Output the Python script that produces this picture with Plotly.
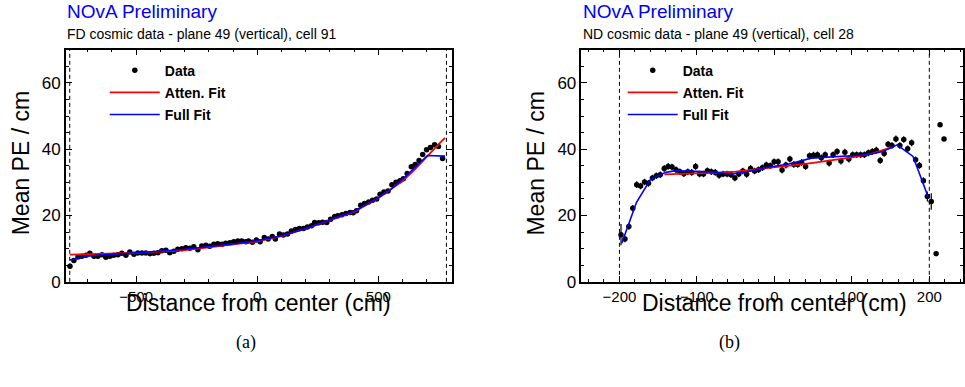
import plotly.graph_objects as go

# ---------------- FD panel (a) ----------------
fd_x = [-773, -757, -740, -724, -707, -691, -674, -658, -641, -625, -608, -592, -575, -559,
        -542, -526, -509, -493, -476, -460, -443, -427, -410, -394, -377, -361, -344, -328,
        -311, -295, -278, -262, -245, -229, -212, -196, -179, -163, -146, -130, -113, -97,
        -80, -64, -47, -36, -20, -4, 12, 29, 45, 62, 75, 92, 108, 125, 141, 158, 174, 191,
        207, 224, 237, 254, 270, 287, 303, 320, 333, 350, 366, 383, 396, 410, 427, 443, 460,
        476, 493, 507, 523, 540, 556, 573, 589, 603, 619, 636, 652, 668, 683, 699, 715, 732,
        748, 765]
fd_y = [4.7, 6.4, 7.5, 7.7, 8.0, 8.6, 7.7, 7.7, 8.2, 7.4, 7.7, 8.0, 8.2, 8.6,
        8.0, 9.0, 8.3, 8.7, 8.7, 8.7, 8.5, 8.6, 8.8, 9.4, 9.5, 8.8, 9.2, 9.8,
        10.0, 10.3, 10.1, 10.6, 9.7, 10.8, 11.0, 10.7, 11.3, 11.5, 11.3, 11.6, 11.8, 12.1,
        12.3, 12.3, 12.1, 12.3, 11.9, 12.6, 12.1, 13.4, 12.9, 13.7, 12.9, 14.4, 14.1, 14.4,
        15.3, 15.8, 16.1, 16.1, 16.5, 16.9, 17.9, 17.8, 18.0, 17.9, 18.9, 19.7, 19.9, 20.2,
        20.6, 20.9, 20.8, 21.4, 23.1, 23.6, 24.1, 24.6, 25.0, 26.4, 27.1, 27.4, 29.3, 30.0,
        30.5, 31.1, 32.7, 34.7, 35.4, 36.6, 38.4, 39.8, 40.5, 41.3, 40.8, 37.2]
fd_err = [0.8] + [0.3] * (len(fd_y) - 1)

fd_att_x = [-773, -700, -600, -500, -400, -300, -200, -100, 0, 100, 200, 300, 400, 500,
            600, 650, 700, 750, 775]
fd_att_y = [8.2, 8.3, 8.4, 8.7, 9.1, 9.6, 10.4, 11.2, 12.2, 13.8, 16.0, 18.6, 21.1, 25.3,
            30.4, 33.8, 37.8, 41.6, 43.4]

fd_full_x = [-773, -740, -700, -650, -600, -500, -400, -300, -200, -100, 0, 100, 200, 300,
             400, 500, 550, 600, 650, 703, 775]
fd_full_y = [6.6, 7.2, 7.7, 8.1, 8.3, 8.7, 9.2, 9.8, 10.5, 11.4, 12.4, 13.9, 16.0, 18.6,
             21.3, 25.3, 27.8, 30.9, 34.3, 38.1, 37.9]

fd_cuts = [-774, 781]

# ---------------- ND panel (b) ----------------
nd_x = [-198.0, -192.9, -187.9, -182.8, -177.7, -172.7, -167.6, -162.5, -157.4, -152.4,
        -147.3, -142.2, -137.2, -132.1, -127.0, -122.0, -116.9, -111.8, -106.7, -101.7,
        -96.6, -91.5, -86.5, -81.4, -76.3, -71.3, -66.2, -61.1, -56.0, -51.0,
        -45.9, -40.8, -35.8, -30.7, -25.6, -20.5, -15.5, -10.4, -5.3, -0.3,
        4.8, 9.9, 14.9, 20.0, 25.1, 30.2, 35.2, 40.3, 45.4, 50.4,
        55.5, 60.6, 65.6, 70.7, 75.8, 80.9, 85.9, 91.0, 96.1, 101.1,
        106.2, 111.3, 116.3, 121.4, 126.5, 131.6, 136.6, 141.7, 146.8, 151.8,
        156.9, 162.0, 167.0, 172.1, 177.2, 182.3, 187.3, 192.4, 197.5, 202.5,
        208.8, 213.9, 219.0]
nd_y = [14.2, 12.9, 16.7, 22.2, 29.3, 28.9, 30.1, 29.7, 31.3, 32.0,
        32.3, 34.2, 34.8, 34.6, 33.8, 33.2, 32.6, 33.2, 33.0, 34.8,
        32.5, 32.5, 33.5, 33.2, 33.0, 32.1, 32.5, 32.5, 32.3, 31.3,
        32.5, 33.4, 32.4, 34.2, 33.4, 33.8, 34.4, 35.2, 35.0, 36.2,
        36.2, 33.7, 35.2, 37.0, 35.4, 35.4, 36.0, 34.8, 38.0, 38.2,
        38.3, 37.4, 38.3, 35.8, 38.3, 39.3, 36.4, 39.1, 37.0, 38.3,
        38.3, 38.3, 38.3, 38.9, 39.3, 39.7, 36.6, 38.7, 41.5, 41.1,
        43.1, 41.1, 42.9, 40.1, 41.9, 36.8, 35.1, 30.5, 25.7, 24.2,
        8.5, 47.4, 43.1]
nd_err = ([3.2] + [1.0] * 77 + [1.5, 2.5] + [0.2, 0.2, 0.2])

nd_att_x = [-142, -120, -100, -75, -50, -25, 0, 25, 50, 75, 100, 125, 152]
nd_att_y = [32.4, 32.5, 32.7, 32.9, 33.2, 33.8, 34.6, 35.2, 35.9, 36.6, 37.5, 38.6, 40.6]

nd_full_x = [-197, -178, -160, -152, -140, -128, -100, -80, -55, -30, -12, 20, 48, 90,
             121, 140, 158.5, 179, 199]
nd_full_y = [11.6, 24.0, 30.8, 31.8, 33.0, 33.5, 33.3, 33.1, 32.5, 33.4, 34.4, 35.6, 37.3,
             38.0, 38.3, 39.3, 41.3, 37.8, 25.3]

nd_cuts = [-200, 200]

FONT = "Liberation Sans"
W = 965
H = 387


def py(ypx):
    """paper y for a pixel row measured from the top"""
    return (H - ypx) / H


fig = go.Figure()


def add_panel(xs, ys, errs, ax, ay, fx, fy, xa, ya, leg):
    fig.add_trace(go.Scatter(
        x=xs, y=ys, mode="markers", name="Data", xaxis=xa, yaxis=ya, legend=leg,
        legendgroup=leg + "d",
        marker=dict(color="black", size=5.5),
        error_y=dict(type="data", array=errs, visible=True, color="black",
                     thickness=1.2, width=0)))
    fig.add_trace(go.Scatter(
        x=ax, y=ay, mode="lines", name="Atten. Fit", xaxis=xa, yaxis=ya, legend=leg,
        legendgroup=leg + "a", line=dict(color="#ff0000", width=1.8)))
    fig.add_trace(go.Scatter(
        x=fx, y=fy, mode="lines", name="Full Fit", xaxis=xa, yaxis=ya, legend=leg,
        legendgroup=leg + "f", line=dict(color="#0000ff", width=1.6)))


add_panel(fd_x, fd_y, fd_err, fd_att_x, fd_att_y, fd_full_x, fd_full_y, "x", "y", "legend")
add_panel(nd_x, nd_y, nd_err, nd_att_x, nd_att_y, nd_full_x, nd_full_y, "x2", "y2", "legend2")

shapes = []
for c in fd_cuts:
    shapes.append(dict(type="line", xref="x", yref="y domain", x0=c, x1=c, y0=0, y1=1,
                       line=dict(color="black", width=1, dash="4px,3px")))
for c in nd_cuts:
    shapes.append(dict(type="line", xref="x2", yref="y2 domain", x0=c, x1=c, y0=0, y1=1,
                       line=dict(color="black", width=1, dash="4px,3px")))

ydom = [py(289.3), py(51)]
axis_common = dict(showline=True, linecolor="black", linewidth=1.5, mirror="ticks",
                   ticks="inside", ticklen=6, tickcolor="black", tickwidth=1,
                   showgrid=False, zeroline=False)

fig.update_layout(
    width=W, height=H, autosize=False, margin=dict(l=0, r=0, t=0, b=0, pad=0),
    paper_bgcolor="white", plot_bgcolor="white",
    font=dict(family=FONT, color="black"),
    shapes=shapes,
    xaxis=dict(domain=[66 / W, 452.7 / W], range=[-790, 803], dtick=500, tick0=0,
               tickfont=dict(size=15, family=FONT),
               minor=dict(dtick=100, ticklen=3, ticks="inside", tickcolor="black"),
               anchor="y", **axis_common),
    yaxis=dict(domain=ydom, range=[0, 70], dtick=20, tick0=0,
               tickfont=dict(size=17, family=FONT),
               minor=dict(dtick=5, ticklen=3, ticks="inside", tickcolor="black"),
               anchor="x", **axis_common),
    xaxis2=dict(domain=[582.7 / W, 1.0], range=[-249, 243.5], dtick=100, tick0=0,
                tickfont=dict(size=15, family=FONT),
                minor=dict(dtick=20, ticklen=3, ticks="inside", tickcolor="black"),
                anchor="y2", **axis_common),
    yaxis2=dict(domain=ydom, range=[0, 70], dtick=20, tick0=0,
                tickfont=dict(size=17, family=FONT),
                minor=dict(dtick=5, ticklen=3, ticks="inside", tickcolor="black"),
                anchor="x2", **axis_common),
    legend=dict(x=105 / W, y=py(56), xanchor="left", yanchor="top",
                bgcolor="rgba(0,0,0,0)", tracegroupgap=1, itemwidth=50,
                font=dict(size=14, family=FONT, weight="bold")),
    legend2=dict(x=624 / W, y=py(56), xanchor="left", yanchor="top",
                 bgcolor="rgba(0,0,0,0)", tracegroupgap=1, itemwidth=50,
                 font=dict(size=14, family=FONT, weight="bold")),
)

ann = []
for x0, sub, cap, xc, xcap in [(65, "FD cosmic data - plane 49 (vertical), cell 91", "(a)", 259, 247),
                               (582.7, "ND cosmic data - plane 49 (vertical), cell 28", "(b)", 776, 731)]:
    ann.append(dict(text="NOvA Preliminary", x=x0 / W, y=py(12), xref="paper",
                    yref="paper", xanchor="left", yanchor="middle", showarrow=False,
                    font=dict(size=19, color="#0000ff", family=FONT)))
    ann.append(dict(text=sub, x=x0 / W, y=py(35), xref="paper", yref="paper",
                    xanchor="left", yanchor="middle", showarrow=False,
                    font=dict(size=14, color="black", family=FONT)))
    ann.append(dict(text="Distance from center (cm)", x=xc / W, y=py(311),
                    xref="paper", yref="paper", xanchor="center", yanchor="middle",
                    showarrow=False, font=dict(size=23, color="black", family=FONT)))
    ann.append(dict(text=cap, x=xcap / W, y=py(352), xref="paper", yref="paper",
                    xanchor="center", yanchor="middle", showarrow=False,
                    font=dict(size=18, color="black", family="Liberation Serif")))
for xt in [20.7, 537]:
    ann.append(dict(text="Mean PE / cm", x=xt / W, y=py(168), xref="paper",
                    yref="paper", xanchor="center", yanchor="middle", textangle=-90,
                    showarrow=False, font=dict(size=23, color="black", family=FONT)))
fig.update_layout(annotations=ann)

fig.write_html("out.html", config={"responsive": False})
